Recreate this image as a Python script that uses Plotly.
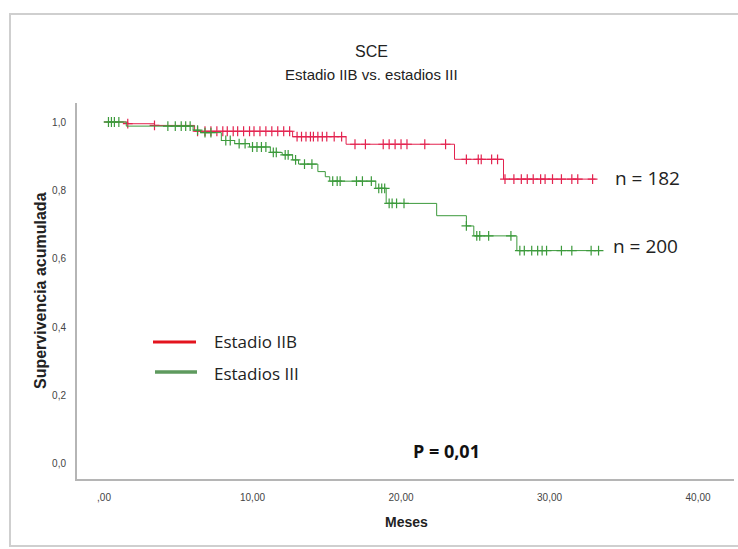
import numpy as np
import plotly.graph_objects as go

# ---- data ----
red_step_t = [0.0, 1.6, 3.4, 6.1, 12.7, 16.3, 23.6, 26.9, 33.1]
red_step_s = [1.0, 0.995, 0.99, 0.973, 0.957, 0.935, 0.891, 0.833, 0.833]
red_cens_t = [1.6, 3.4, 6.3, 6.8, 7.2, 7.6, 8.0, 8.3, 8.7, 9.0, 9.4, 9.8, 10.1, 10.5, 10.9,
              11.3, 11.7, 12.1, 12.5, 13.0, 13.3, 13.6, 13.9, 14.1, 14.4, 14.7, 15.0, 15.5,
              16.0, 16.9, 17.6, 18.8, 19.2, 19.6, 20.0, 20.4, 21.6, 23.0, 24.4, 25.2, 25.4,
              26.1, 26.5, 27.0, 27.6, 28.1, 28.5, 28.9, 29.4, 29.7, 30.2, 30.8, 31.5, 31.9, 32.9]

green_step_t = [0.0, 1.5, 6.0, 6.5, 7.9, 8.8, 9.8, 11.2, 12.0, 12.7, 13.1, 14.4, 14.9, 15.2,
                18.3, 19.0, 22.4, 24.4, 24.9, 27.8, 33.4]
green_step_s = [1.0, 0.988, 0.976, 0.969, 0.946, 0.937, 0.927, 0.911, 0.904, 0.889, 0.877,
                0.855, 0.840, 0.827, 0.806, 0.762, 0.726, 0.696, 0.667, 0.624, 0.624]
green_cens_t = [0.3, 0.5, 0.7, 1.0, 4.3, 4.8, 5.2, 5.5, 5.8, 6.3, 6.8, 7.2, 8.2, 8.5, 9.1, 9.5,
                10.0, 10.3, 10.6, 10.9, 11.4, 11.6, 12.2, 12.4, 12.9, 13.5, 14.0, 15.4, 15.7,
                15.9, 17.0, 17.4, 18.0, 18.5, 18.7, 18.9, 19.2, 19.4, 19.7, 20.2, 24.4, 25.1,
                25.3, 25.9, 27.4, 28.0, 28.3, 28.8, 29.2, 29.5, 29.8, 30.8, 31.5, 32.8, 33.3]

series_names = ["Estadio IIB", "Estadios III"]
n_labels = ["n = 182", "n = 200"]
p_label = "P = 0,01"
x_tickvals = [0, 10, 20, 30, 40]
x_ticktext = [",00", "10,00", "20,00", "30,00", "40,00"]
y_tickvals = [0.0, 0.2, 0.4, 0.6, 0.8, 1.0]
y_ticktext = ["0,0", "0,2", "0,4", "0,6", "0,8", "1,0"]

RED = "#e3234f"
GREEN = "#3c9a3c"

def surv_at(ts, ss, t):
    idx = np.searchsorted(np.array(ts), np.array(t), side="right") - 1
    return np.array(ss)[idx]

fig = go.Figure()
for st, ss, ct, col in [(red_step_t, red_step_s, red_cens_t, RED),
                        (green_step_t, green_step_s, green_cens_t, GREEN)]:
    fig.add_trace(go.Scatter(x=st, y=ss, mode="lines", line=dict(color=col, width=1, shape="hv"),
                             showlegend=False, hoverinfo="skip"))
    fig.add_trace(go.Scatter(x=ct, y=surv_at(st, ss, ct), mode="markers",
                             marker=dict(symbol="cross-thin", size=7, line=dict(color=col, width=1.2)),
                             showlegend=False, hoverinfo="skip"))

# geometry helpers (plot area px: x 77..734, y 103..479)
L, R, T, B = 77, 734, 103, 479
def px(x): return (x - L) / (R - L)
def py(y): return (B - y) / (B - T)

narrow = "Liberation Sans Narrow, Arial Narrow, Liberation Sans, sans-serif"
calib = "Open Sans, sans-serif"

def note(text, x, y, size, family, xanchor="center", color="#222", angle=0):
    return dict(text=text, x=px(x), y=py(y), xref="paper", yref="paper", showarrow=False,
                xanchor=xanchor, yanchor="middle", textangle=angle,
                font=dict(family=family, size=size, color=color))

shapes = [
    dict(type="rect", xref="paper", yref="paper", x0=px(10), x1=px(760), y0=py(546), y1=py(14),
         line=dict(color="#cfcfcf", width=2), layer="below"),
    dict(type="line", xref="paper", yref="paper", x0=px(153), x1=px(196), y0=py(342), y1=py(342),
         line=dict(color="#e3141e", width=3)),
    dict(type="line", xref="paper", yref="paper", x0=px(155), x1=px(197), y0=py(372), y1=py(372),
         line=dict(color="#5e9a5e", width=3.5)),
]
ann = [
    note("SCE", 371, 52, 16, narrow),
    note("Estadio IIB vs. estadios III", 371, 74, 15, narrow),
    note(series_names[0], 212, 341, 17, calib, xanchor="left"),
    note(series_names[1], 212, 373, 17, calib, xanchor="left"),
    note(n_labels[0], 613, 178, 19, calib, xanchor="left"),
    note(n_labels[1], 611, 246, 19, calib, xanchor="left"),
    note("<b>" + p_label + "</b>", 446, 451, 18, calib, color="#111"),
    note("<b>Supervivencia acumulada</b>", 40, 291, 16, "Liberation Sans, Arial, sans-serif", angle=-90),
    note("<b>Meses</b>", 406, 522, 14, narrow),
]

fig.update_layout(
    width=738, height=549,
    margin=dict(l=L, r=738 - R, t=T, b=549 - B, autoexpand=False),
    paper_bgcolor="white", plot_bgcolor="white",
    shapes=shapes, annotations=ann,
    xaxis=dict(range=[-1.818, 42.42], tickvals=x_tickvals, ticktext=x_ticktext, showgrid=False,
               zeroline=False, showline=True, linecolor="#b5b5b5", linewidth=2, ticks="",
               automargin=False, ticklabelstandoff=8,
               tickfont=dict(family=narrow, size=10, color="#444")),
    yaxis=dict(range=[-0.0439, 1.0556], tickvals=y_tickvals, ticktext=y_ticktext, showgrid=False,
               zeroline=False, showline=True, linecolor="#b5b5b5", linewidth=2, ticks="",
               automargin=False, ticklabelstandoff=7,
               tickfont=dict(family=narrow, size=10, color="#444")),
)
fig.write_html("out.html", config={"displayModeBar": False},
               post_script="document.body.style.margin='0px';document.body.style.overflow='hidden';")
